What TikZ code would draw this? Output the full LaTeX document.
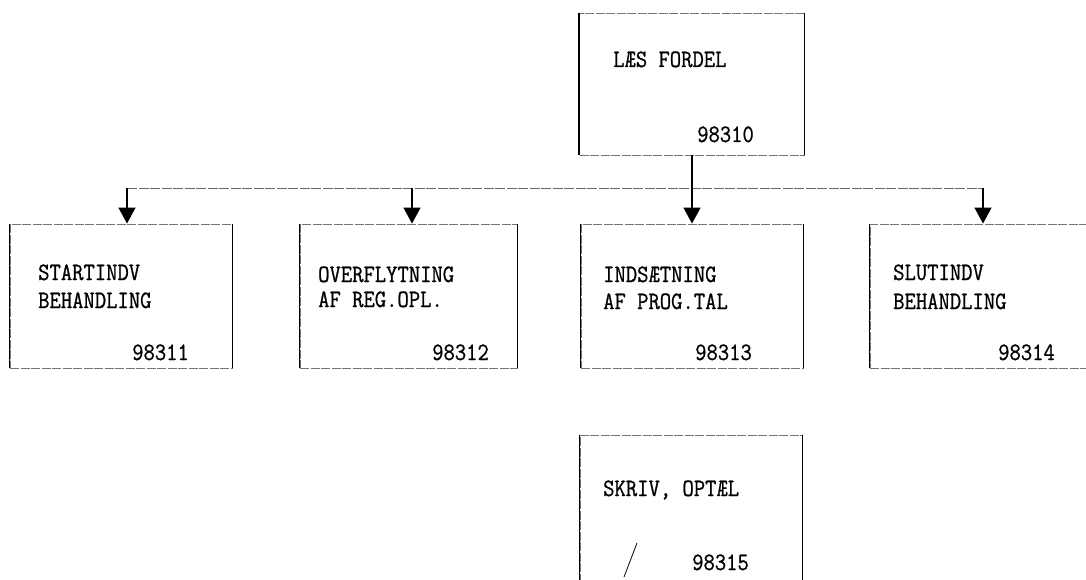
\documentclass[tikz,border=0pt]{standalone}
\usepackage{fontspec}
\newfontfamily\typew{Latin Modern Mono}[FakeStretch=0.88,FakeBold=0.8]
\usetikzlibrary{arrows.meta,calc}
\begin{document}
\begin{tikzpicture}[x=1pt,y=-1pt,
  box/.style={draw=black!55,line width=0.9pt,dash pattern=on 9pt off 1.5pt,
    rectangle,minimum width=#1,inner sep=0pt},
  box/.default=222pt,
  side/.style={draw=black,line width=1.3pt},
  bus/.style={draw=black!60,line width=0.9pt,dash pattern=on 10pt off 1.5pt},
  arr/.style={draw=black,line width=1.4pt,-{Triangle[width=17pt,length=16pt]}},
  lbl/.style={font=\typew\fontsize{25}{28}\selectfont,anchor=base west,inner sep=0pt}]
\clip (0,0) rectangle (1086,580);
\fill[white] (0,0) rectangle (1086,580);
% boxes
\node[box=225pt,minimum height=142pt] (top) at (692,84) {};
\node[box=222pt,minimum height=144pt] (b1) at (121,296) {};
\node[box=217pt,minimum height=144pt] (b2) at (408.5,296) {};
\node[box=222pt,minimum height=144pt] (b3) at (692,296) {};
\node[box=226pt,minimum height=144pt] (b4) at (983,296) {};
\node[box=222pt,minimum height=184pt] (b5) at (691,527) {};
% heavy vertical sides
\foreach \b in {top,b1,b2,b3,b4,b5}{
  \draw[side] (\b.north west) -- (\b.south west);
  \draw[side,line width=1pt] (\b.north east) -- (\b.south east);
}
% texts
\node[lbl] (t0a) at (613,67) {LÆS FORDEL};
\node[lbl] (t0n) at (697,142) {98310};
\node[lbl] (t1a) at (38,280) {STARTINDV};
\node[lbl] (t1b) at (38,308) {BEHANDLING};
\node[lbl] (t1n) at (132,360) {98311};
\node[lbl] (t2a) at (318,282) {OVERFLYTNING};
\node[lbl] (t2b) at (318,307) {AF REG.OPL.};
\node[lbl] (t2n) at (432,360) {98312};
\node[lbl] (t3a) at (603,282) {INDSÆTNING};
\node[lbl] (t3b) at (603,309) {AF PROG.TAL};
\node[lbl] (t3n) at (695,360) {98313};
\node[lbl] (t4a) at (893,280) {SLUTINDV};
\node[lbl] (t4b) at (893,309) {BEHANDLING};
\node[lbl] (t4n) at (998,360) {98314};
\node[lbl] (t5a) at (603,496) {SKRIV, OPTÆL};
\node[lbl] (t5n) at (692,570) {98315};
% connectors
\coordinate (c1) at (127,188);
\coordinate (c2) at (412,188);
\coordinate (c4) at (983,188);
\draw[bus] (c1) -- (c4);
\draw[arr] (top.south) -- (top.south |- b3.north);
\draw[arr] (c1) -- (c1 |- b1.north);
\draw[arr] (c2) -- (c2 |- b2.north);
\draw[arr] (c4) -- (c4 |- b4.north);
% pen mark
\draw[line width=0.8pt] (637,543) -- (624,577);
\end{tikzpicture}
\end{document}
